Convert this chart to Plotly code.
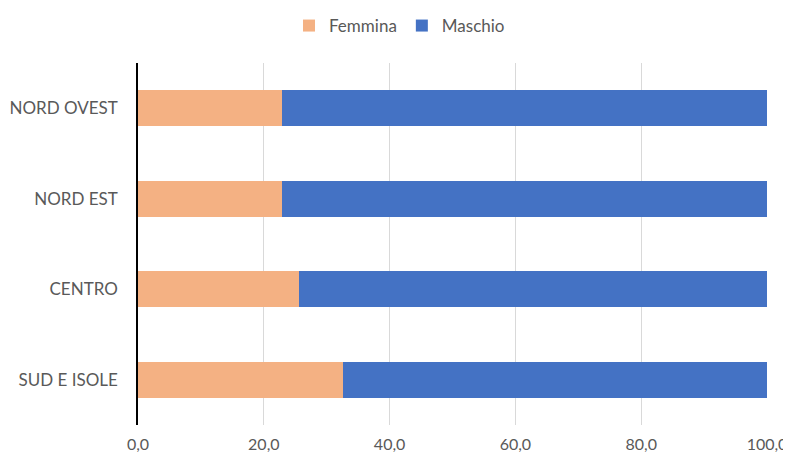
import plotly.graph_objects as go

categories = ["NORD OVEST", "NORD EST", "CENTRO", "SUD E ISOLE"]
femmina = [22.96, 22.86, 25.67, 32.66]
maschio = [77.04, 77.14, 74.33, 67.34]
x_ticks = [0, 20, 40, 60, 80, 100]
x_ticklabels = ["0,0", "20,0", "40,0", "60,0", "80,0", "100,0"]

FONT = "Lato, Carlito, Calibri, sans-serif"

fig = go.Figure()
fig.add_trace(go.Bar(y=categories, x=femmina, name="Femmina", orientation="h",
                     marker=dict(color="#F4B183", line=dict(width=0))))
fig.add_trace(go.Bar(y=categories, x=maschio, name="Maschio", orientation="h",
                     marker=dict(color="#4472C4", line=dict(width=0))))

fig.update_layout(
    width=783, height=447,
    barmode="stack", bargap=0.6,
    plot_bgcolor="white", paper_bgcolor="white",
    margin=dict(l=130, r=24, t=55, b=30, autoexpand=False),
    font=dict(family=FONT, size=17, color="#595959"),
    legend=dict(orientation="h", x=0.5, xanchor="center", xref="container",
                y=1.0, yref="container", yanchor="top",
                font=dict(size=17, color="#595959"),
                itemwidth=30, traceorder="normal"),
    xaxis=dict(range=[0, 100], tickvals=x_ticks, ticktext=x_ticklabels,
               showgrid=True, gridcolor="#D9D9D9", gridwidth=1,
               zeroline=False, showline=False, ticklabeloverflow="allow",
               ticks="outside", ticklen=5, tickcolor="rgba(0,0,0,0)",
               tickfont=dict(size=16, color="#595959")),
    yaxis=dict(categoryorder="array", categoryarray=categories, autorange="reversed",
               showline=True, linecolor="black", linewidth=1.5,
               showgrid=False, zeroline=False,
               ticks="outside", ticklen=15, tickcolor="rgba(0,0,0,0)",
               tickfont=dict(size=17, color="#595959")),
)

fig.write_html("out.html")
